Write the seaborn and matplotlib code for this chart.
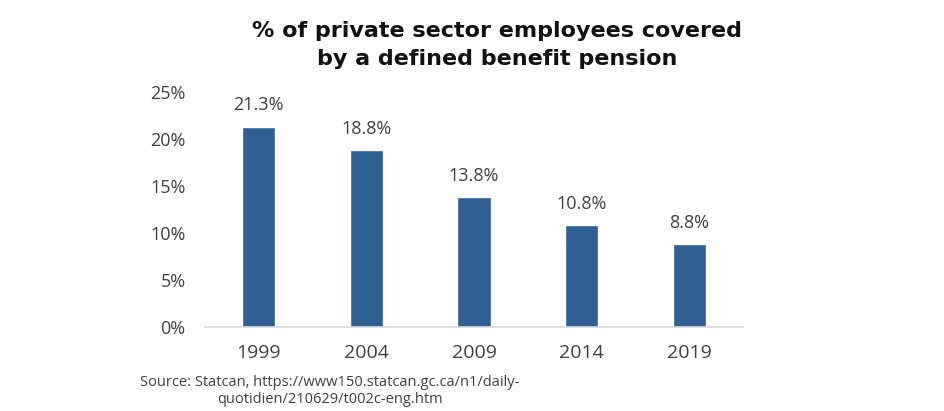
import matplotlib
matplotlib.use("Agg")
import matplotlib.pyplot as plt
import seaborn as sns
import pandas as pd

years = ["1999", "2004", "2009", "2014", "2019"]
coverage = [21.3, 18.8, 13.8, 10.8, 8.8]
y_ticks = [0, 5, 10, 15, 20, 25]
title_text = "% of private sector employees covered\nby a defined benefit pension"
source_text = "Source: Statcan, https://www150.statcan.gc.ca/n1/daily-\nquotidien/210629/t002c-eng.htm"

sns.set_style("white")
plt.rcParams['font.family'] = ['Open Sans', 'DejaVu Sans']

df = pd.DataFrame({"year": years, "pct": coverage})

fig = plt.figure(figsize=(9.44, 4.11), dpi=100)
ax = fig.add_axes([205/944, 1-327/411, (743-205)/944, (327-92)/411])

sns.barplot(data=df, x="year", y="pct", color="#2F5F93", width=0.31,
            saturation=1, ax=ax)

ax.set_xlim(-0.5, 4.5)
ax.set_ylim(0, 25)
ax.set_yticks(y_ticks)
ax.set_yticklabels([f"{t}%" for t in y_ticks])
ax.set_xlabel("")
ax.set_ylabel("")
for s in ["top", "right", "left"]:
    ax.spines[s].set_visible(False)
ax.spines["bottom"].set_color("#d9d9d9")
ax.spines["bottom"].set_linewidth(1.2)
ax.tick_params(axis="y", length=0, pad=14, labelsize=13, labelcolor="#404040")
ax.tick_params(axis="x", length=0, pad=12, labelsize=14, labelcolor="#404040")

for i, v in enumerate(coverage):
    ax.annotate(f"{v}%", (i, v), xytext=(0, 9), textcoords="offset points",
                ha="center", va="bottom", fontsize=13, color="#404040")

fig.text(497/944, 1-45/411, title_text, ha="center", va="center",
         fontsize=16, fontweight="bold", color="#111111", linespacing=1.45,
         family=["DejaVu Sans"])
fig.text(330/944, 1-391/411, source_text, ha="center", va="center",
         fontsize=10.5, color="#404040", linespacing=1.25, multialignment="center")

fig.savefig("out.png", dpi=100)
